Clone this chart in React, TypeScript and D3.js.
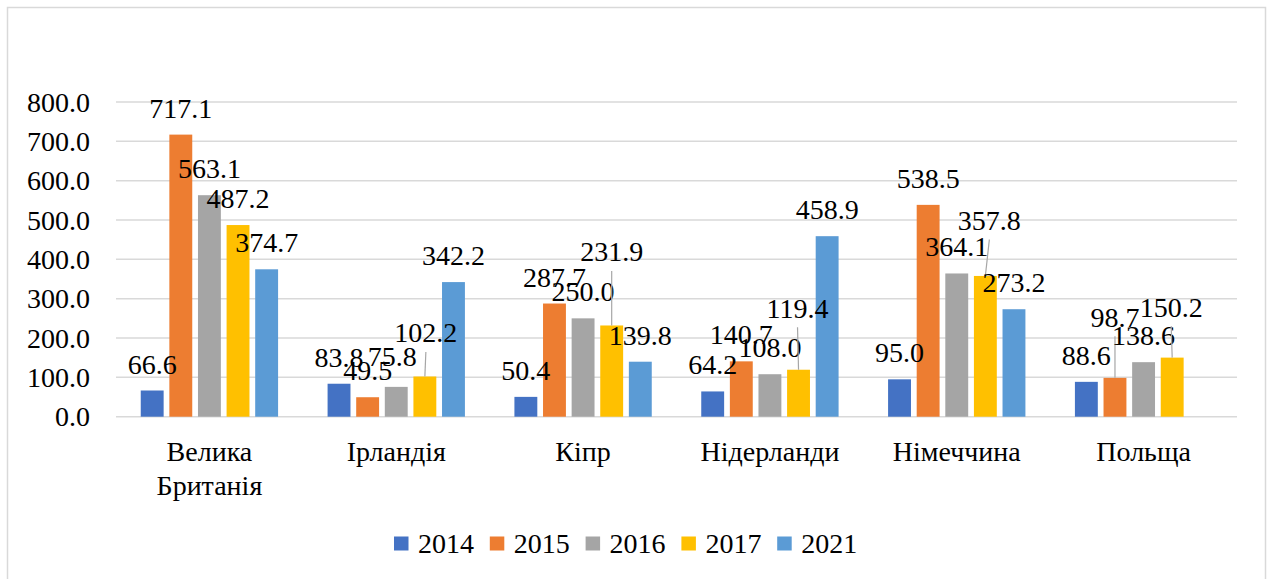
import React from 'react';
import * as d3 from 'd3';

// categories and series
const categories = ['Велика Британія', 'Ірландія', 'Кіпр', 'Нідерланди', 'Німеччина', 'Польща'];
const years = ['2014', '2015', '2016', '2017', '2021'];
const v2014 = [66.6, 83.8, 50.4, 64.2, 95.0, 88.6];
const v2015 = [717.1, 49.5, 287.7, 140.7, 538.5, 98.7];
const v2016 = [563.1, 75.8, 250.0, 108.0, 364.1, 138.6];
const v2017 = [487.2, 102.2, 231.9, 119.4, 357.8, 150.2];
const v2021 = [374.7, 342.2, 139.8, 458.9, 273.2, null];
const yTicks = [0, 100, 200, 300, 400, 500, 600, 700, 800];

const seriesValues = [v2014, v2015, v2016, v2017, v2021];
const colors = ['#4472C4', '#ED7D31', '#A5A5A5', '#FFC000', '#5B9BD5'];

// labels that were dragged off their bars in the original (with leader lines)
const labelMoves: Record<string, { dx: number; dy: number; leader?: boolean }> = {
  'Ірландія|2016': { dx: -4, dy: -4 },
  'Ірландія|2017': { dx: 1, dy: -17, leader: true },
  'Кіпр|2017': { dx: 0, dy: -47, leader: true },
  'Нідерланди|2017': { dx: -1, dy: -35, leader: true },
  'Німеччина|2017': { dx: 4, dy: -29, leader: true },
  'Польща|2015': { dx: 0, dy: -34, leader: true },
  'Польща|2017': { dx: -1, dy: -24, leader: true },
};

const W = 1268;
const H = 579;

function T(props: any) {
  const { children, ...rest } = props;
  return (
    <text {...rest} fontFamily="Liberation Serif" fontSize={28} fill="#000">
      {children}
    </text>
  );
}

export default function App() {
  const x0 = d3.scaleBand().domain(categories).range([116, 1237]);
  const x1 = d3
    .scaleBand()
    .domain(years)
    .range([0, x0.bandwidth()])
    .paddingInner(0.2)
    .paddingOuter(0.865);
  const y = d3.scaleLinear().domain([0, 800]).range([416.7, 102]);
  const fmt = d3.format('.1f');

  const bars: any[] = [];
  categories.forEach((c, ci) => {
    years.forEach((yr, si) => {
      const v = seriesValues[si][ci];
      if (v == null) return;
      bars.push({ c, yr, v, color: colors[si] });
    });
  });

  const legendX = d3.scaleBand().domain(years).range([394, 873]);

  return (
    <svg width={W} height={H} style={{ position: 'absolute', left: 0, top: 0, background: '#fff' }}>
      <rect x={7.5} y={7.5} width={1258} height={590} fill="#fff" stroke="#d9d9d9" strokeWidth={1.5} />

      {/* grid + y axis */}
      {yTicks.map((t) => (
        <g key={t}>
          <line x1={116} x2={1237} y1={y(t)} y2={y(t)} stroke="#d9d9d9" strokeWidth={1.5} />
          <T x={90} y={y(t) + 9.5} textAnchor="end">
            {fmt(t)}
          </T>
        </g>
      ))}

      {/* bars */}
      {bars.map((b) => (
        <rect
          key={b.c + b.yr}
          x={x0(b.c)! + x1(b.yr)!}
          y={y(b.v)}
          width={x1.bandwidth()}
          height={y(0) - y(b.v)}
          fill={b.color}
        />
      ))}

      {/* data labels */}
      {bars.map((b) => {
        const cx = x0(b.c)! + x1(b.yr)! + x1.bandwidth() / 2;
        const top = y(b.v);
        const m = labelMoves[b.c + '|' + b.yr] || { dx: 0, dy: 0 };
        const lx = cx + m.dx;
        const lc = top - 26.5 + m.dy;
        return (
          <g key={'l' + b.c + b.yr}>
            {m.leader && (
              <line x1={lx} y1={lc + 19} x2={cx} y2={top} stroke="#a6a6a6" strokeWidth={1.2} />
            )}
            <T x={lx} y={lc + 9.5} textAnchor="middle">
              {fmt(b.v)}
            </T>
          </g>
        );
      })}

      {/* category labels */}
      {categories.map((c) => {
        const lines = c.split(' ');
        const cx = x0(c)! + x0.bandwidth() / 2;
        return (
          <T key={c} x={cx} y={461} textAnchor="middle">
            {lines.map((ln, i) => (
              <tspan key={i} x={cx} dy={i === 0 ? 0 : 34}>
                {ln}
              </tspan>
            ))}
          </T>
        );
      })}

      {/* legend */}
      {years.map((yr, i) => (
        <g key={yr} transform={`translate(${legendX(yr)},0)`}>
          <rect x={0} y={536.5} width={14.5} height={14} fill={colors[i]} />
          <T x={24} y={553}>
            {yr}
          </T>
        </g>
      ))}
    </svg>
  );
}
